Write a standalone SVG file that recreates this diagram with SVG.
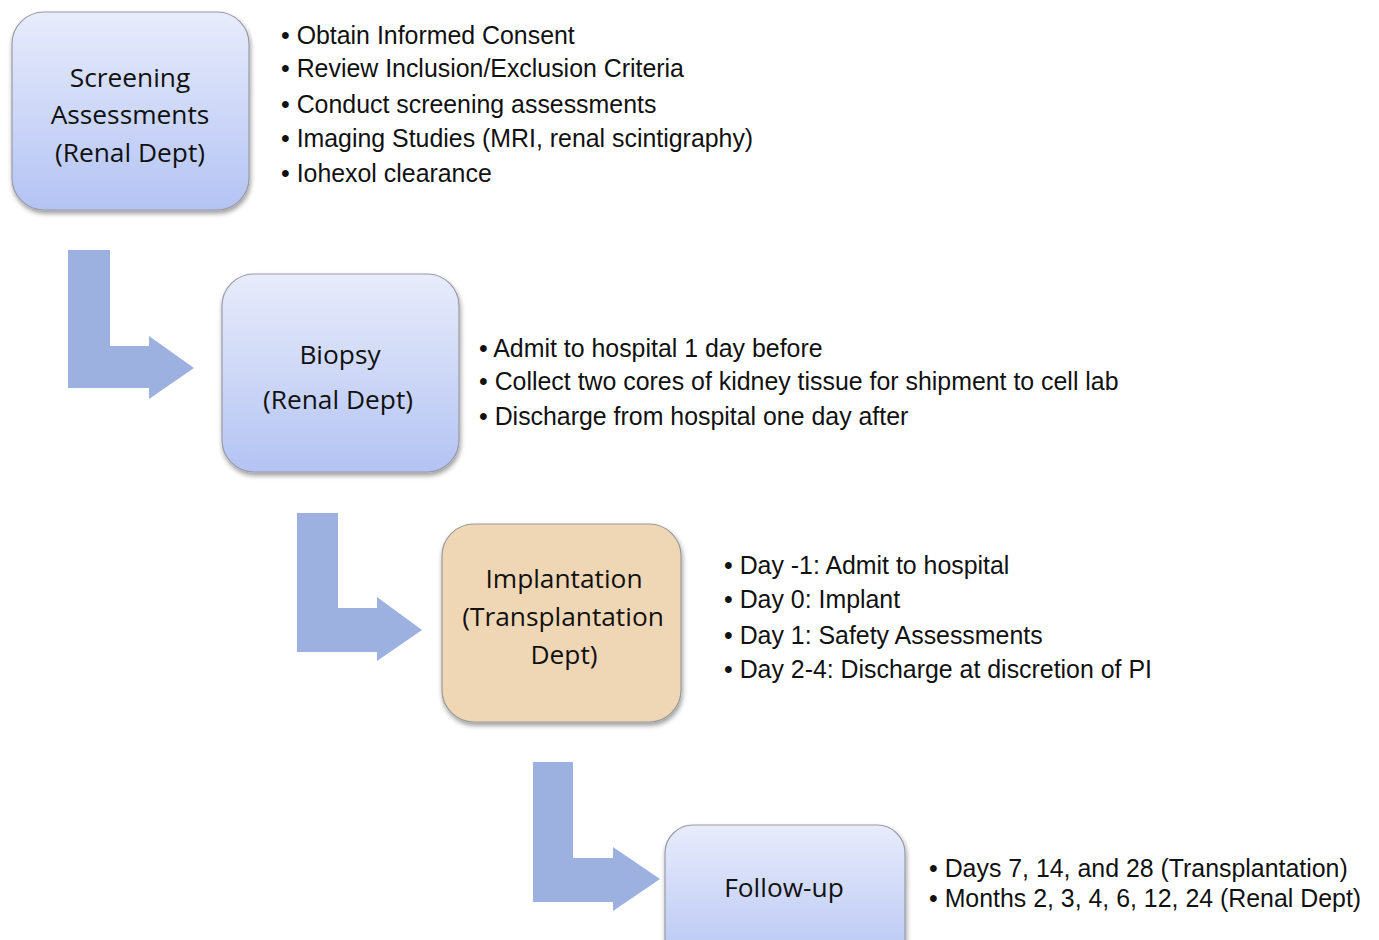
<svg xmlns="http://www.w3.org/2000/svg" width="1379" height="940" viewBox="0 0 1379 940">
<style>
.node{font-family:"Open Sans",Lato,"Liberation Sans",sans-serif;font-size:26.3px;fill:#111;text-anchor:middle}
.bul{font-family:"Liberation Sans",Arial,sans-serif;font-size:24.9px;fill:#111}
.blue{fill:url(#gBlue);stroke:#9a9aa8;stroke-width:1.2;filter:url(#sh)}
.tan{fill:#efd7b6;stroke:#9a9a9a;stroke-width:1.2;filter:url(#sh)}
.arr{fill:#9db1e0}
</style>
<defs>
<linearGradient id="gBlue" x1="0" y1="0" x2="0" y2="1">
<stop offset="0" stop-color="#e8ecfb"/>
<stop offset="1" stop-color="#b3c3f3"/>
</linearGradient>
<filter id="sh" x="-10%" y="-10%" width="125%" height="125%">
<feGaussianBlur in="SourceAlpha" stdDeviation="2.5"/>
<feOffset dx="1" dy="3" result="b"/>
<feComponentTransfer><feFuncA type="linear" slope="0.4"/></feComponentTransfer>
<feMerge><feMergeNode/><feMergeNode in="SourceGraphic"/></feMerge>
</filter>
</defs>
<rect width="1379" height="940" fill="#ffffff"/>
<g id="connectors">
<path class="arr" d="M68 250 H110 V346 H149 V336 L194 368 L149 399 V388 H68 Z"/>
<path class="arr" d="M297 513 H338 V608 H377 V597 L422 630 L377 661 V652 H297 Z"/>
<path class="arr" d="M533 762 H573 V858 H613 V847 L660 879 L613 911 V902 H533 Z"/>
</g>
<g id="screening">
<rect class="blue" x="12" y="12" width="237" height="198" rx="32"/>
<text class="node" x="130" y="87">Screening</text>
<text class="node" x="130" y="124">Assessments</text>
<text class="node" x="130" y="162">(Renal Dept)</text>
</g>
<g id="screening-notes">
<text class="bul" x="281" y="44">• Obtain Informed Consent</text>
<text class="bul" x="281" y="77">• Review Inclusion/Exclusion Criteria</text>
<text class="bul" x="281" y="113">• Conduct screening assessments</text>
<text class="bul" x="281" y="147">• Imaging Studies (MRI, renal scintigraphy)</text>
<text class="bul" x="281" y="182">• Iohexol clearance</text>
</g>
<g id="biopsy">
<rect class="blue" x="222" y="274" width="237" height="198" rx="32"/>
<text class="node" x="340" y="364">Biopsy</text>
<text class="node" x="338" y="409">(Renal Dept)</text>
</g>
<g id="biopsy-notes">
<text class="bul" x="479" y="357">• Admit to hospital 1 day before</text>
<text class="bul" x="479" y="390">• Collect two cores of kidney tissue for shipment to cell lab</text>
<text class="bul" x="479" y="425">• Discharge from hospital one day after</text>
</g>
<g id="implantation">
<rect class="tan" x="442" y="524" width="239" height="198" rx="32"/>
<text class="node" x="564" y="588">Implantation</text>
<text class="node" x="563" y="626">(Transplantation</text>
<text class="node" x="564" y="664">Dept)</text>
</g>
<g id="implantation-notes">
<text class="bul" x="724" y="574">• Day -1: Admit to hospital</text>
<text class="bul" x="724" y="608">• Day 0: Implant</text>
<text class="bul" x="724" y="644">• Day 1: Safety Assessments</text>
<text class="bul" x="724" y="678">• Day 2-4: Discharge at discretion of PI</text>
</g>
<g id="followup">
<rect class="blue" x="665" y="825" width="240" height="150" rx="28"/>
<text class="node" x="784" y="897">Follow-up</text>
</g>
<g id="followup-notes">
<text class="bul" x="929" y="877">• Days 7, 14, and 28 (Transplantation)</text>
<text class="bul" x="929" y="907">• Months 2, 3, 4, 6, 12, 24 (Renal Dept)</text>
</g>
</svg>
